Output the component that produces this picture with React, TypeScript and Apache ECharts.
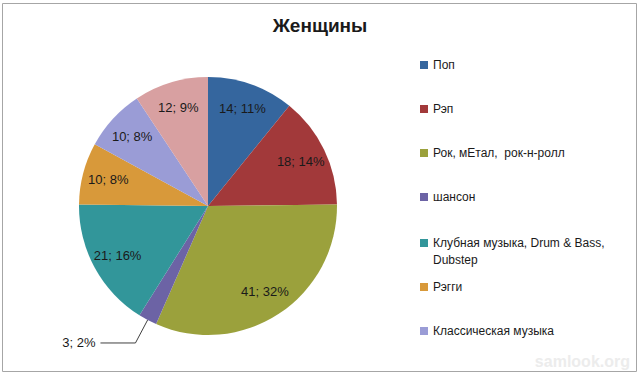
import React, { useEffect, useRef } from "react";
import * as echarts from "echarts";

const categories = [
  "Поп",
  "Рэп",
  "Рок, мЕтал,  рок-н-ролл",
  "шансон",
  "Клубная музыка, Drum & Bass, Dubstep",
  "Рэгги",
  "Классическая музыка",
  "Другое",
];
const values = [14, 18, 41, 3, 21, 10, 10, 12];
const colors = ["#35669E", "#A2393A", "#9BA13C", "#6C63A5", "#32969A", "#D8993A", "#9A9CD6", "#D8A0A1"];
const legendFirst = categories.slice(0, 4);
const legendClub = categories.slice(4, 5);
const legendSecond = categories.slice(5, 7);
const title = "Женщины";

const FONT = "'Liberation Sans', Arial, sans-serif";

export default function App() {
  const ref = useRef<HTMLDivElement>(null);
  useEffect(() => {
    if (!ref.current) return;
    const chart = echarts.init(ref.current, null, { renderer: "svg" });
    const visibleData = values.map((v, i) => ({
      value: v,
      name: categories[i],
      itemStyle: { color: colors[i] },
      label: i === 3 ? { show: true, position: "outside" } : { show: false },
      labelLine: { show: i === 3 },
    }));
    const labelData = values.map((v, i) => ({
      value: v,
      name: categories[i],
      label: { show: i !== 3 },
    }));
    const legendCommon = {
      orient: "vertical",
      left: 420,
      padding: 0,
      icon: "rect",
      itemWidth: 8,
      itemHeight: 8,
      itemGap: 27,
      selectedMode: false,
      textStyle: { fontFamily: FONT, fontSize: 12, color: "#1a1a1a", lineHeight: 17 },
    };
    chart.setOption({
      animation: false,
      backgroundColor: "#ffffff",
      title: {
        text: title,
        left: "center",
        top: 16,
        padding: 0,
        textStyle: { fontFamily: FONT, fontSize: 19, fontWeight: "bold", color: "#1a1a1a" },
      },
      legend: [
        {
          ...legendCommon,
          top: 56.5,
          data: legendFirst,
        },
        {
          ...legendCommon,
          top: 234.5,
          itemHeight: 25,
          icon: "path://M0,0h8v8h-8z M0,25",
          data: legendClub,
          formatter: () => "Клубная музыка, Drum & Bass,\nDubstep",
        },
        {
          ...legendCommon,
          top: 278.5,
          data: legendSecond,
        },
      ],
      graphic: [
        {
          type: "rect",
          shape: { x: 2.5, y: 3.5, width: 634, height: 368 },
          style: { fill: "none", stroke: "#a6a6a6", lineWidth: 1 },
          silent: true,
        },
        {
          type: "text",
          right: 10,
          bottom: 10,
          style: { text: "samlook.org", fill: "#ececec", font: "bold 16px " + FONT },
          silent: true,
        },
      ],
      series: [
        {
          type: "pie",
          center: [208, 206],
          radius: [0, 129],
          startAngle: 90,
          clockwise: true,
          percentPrecision: 0,
          avoidLabelOverlap: false,
          itemStyle: { borderWidth: 0 },
          label: {
            formatter: "{c}; {d}%",
            fontFamily: FONT,
            fontSize: 13,
            color: "#1a1a1a",
          },
          labelLine: { length: 26, length2: 35, lineStyle: { color: "#404040", width: 1 } },
          emphasis: { disabled: true },
          data: visibleData,
        },
        {
          type: "pie",
          center: [208, 206],
          radius: [71, 129],
          startAngle: 90,
          clockwise: true,
          percentPrecision: 0,
          silent: true,
          avoidLabelOverlap: false,
          itemStyle: { color: "rgba(0,0,0,0)", borderWidth: 0 },
          label: {
            position: "inside",
            formatter: "{c}; {d}%",
            fontFamily: FONT,
            fontSize: 13,
            color: "#1a1a1a",
          },
          labelLine: { show: false },
          emphasis: { disabled: true },
          data: labelData,
        },
      ],
    });
    return () => chart.dispose();
  }, []);
  return (
    <div
      ref={ref}
      style={{ position: "absolute", left: 0, top: 0, width: 640, height: 379 }}
    />
  );
}
